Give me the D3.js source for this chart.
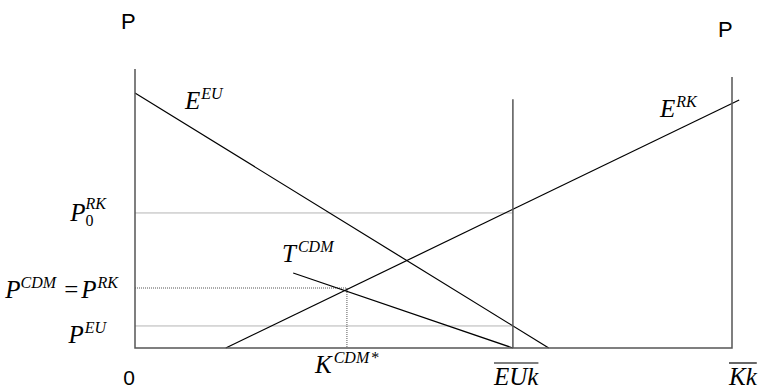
<!DOCTYPE html>
<html>
<head>
<meta charset="utf-8">
<script src="https://cdn.jsdelivr.net/npm/d3@7/dist/d3.min.js"></script>
<style>
body { margin: 0; background: #fff; }
</style>
</head>
<body>
<script>
var w = 764;
var h = 390;

// quantity positions (0 .. Kk = 100)
var kEU = 63.3;
var kK = 100;
var kCDM = 35.5;

// price levels
var pRK0 = 48.4;
var pCDM = 21.5;
var pEU = 7.9;

// axis / capacity line tops
var leftTop = 100;
var rightTop = 97.1;
var euTop = 89.2;

// curves as [quantity, price] end points
var curveEU = [[0, 91.4], [69.3, 0]];
var curveRK = [[15.2, 0], [101.2, 88.9]];
var curveT = [[26.5, 26.9], [63.3, 0]];

var x = d3.scaleLinear().domain([0, 100]).range([135, 732]);
var y = d3.scaleLinear().domain([0, 100]).range([348, 69]);

var svg = d3.select("body")
    .append("svg")
    .attr("width", w)
    .attr("height", h);

var line = d3.line()
    .x(function (d) { return x(d[0]); })
    .y(function (d) { return y(d[1]); });

var addSeg = function (pts, stroke, width, dash) {
    var p = svg.append("path")
        .attr("d", line(pts))
        .attr("fill", "none")
        .attr("stroke", stroke)
        .attr("stroke-width", width);
    if (dash) p.attr("stroke-dasharray", dash);
    return p;
}

// guide lines
addSeg([[0, pRK0], [kEU, pRK0]], "#b4b4b4", 1);
addSeg([[0, pEU], [kEU, pEU]], "#b4b4b4", 1);
addSeg([[0, pCDM], [kCDM, pCDM]], "#555", 1, "1,1");
addSeg([[kCDM, pCDM], [kCDM, 0]], "#555", 1, "1,1");

// curves
addSeg(curveEU, "#000", 1.2);
addSeg(curveRK, "#000", 1.2);
addSeg(curveT, "#000", 1.2);

// axes and capacity lines
addSeg([[0, leftTop], [0, 0], [kK, 0], [kK, rightTop]], "#555", 1.5);
addSeg([[kEU, euTop], [kEU, 0]], "#555", 1.5);

// math labels built from pieces
var serif = "'Liberation Serif', 'Times New Roman', serif";
var sans = "'Liberation Sans', Arial, sans-serif";
var big = 25;
var small = 16;

var mathLabel = function (px, py, pieces, anchorEnd) {
    var g = svg.append("g");
    var cx = 0;
    var lastW = 0;
    pieces.forEach(function (p) {
        var size = p.size || big;
        var startX = p.stack ? cx - lastW : cx;
        var t = g.append("text")
            .attr("x", startX + (p.dx || 0))
            .attr("y", p.dy || 0)
            .attr("font-family", serif)
            .attr("font-size", size)
            .attr("font-style", p.up ? "normal" : "italic")
            .attr("fill", "#000")
            .text(p.t);
        var tw = t.node().getComputedTextLength();
        var end = startX + (p.dx || 0) + tw;
        if (p.over) {
            g.append("line")
                .attr("x1", startX).attr("x2", end)
                .attr("y1", -22).attr("y2", -22)
                .attr("stroke", "#000").attr("stroke-width", 1.2);
        }
        lastW = tw;
        cx = Math.max(cx, end);
    });
    var shift = anchorEnd ? px - cx : px;
    g.attr("transform", "translate(" + shift + "," + py + ")");
}

mathLabel(185, 109, [{ t: "E" }, { t: "EU", size: small, dy: -10, dx: 1 }]);
mathLabel(660, 117, [{ t: "E" }, { t: "RK", size: small, dy: -10, dx: 1 }]);
mathLabel(282, 262, [{ t: "T" }, { t: "CDM", size: small, dy: -10, dx: 2 }]);
mathLabel(315, 373, [{ t: "K" }, { t: "CDM", size: small, dy: -10, dx: 2 }, { t: "*", size: small, dy: -10, dx: 2, up: true }]);

mathLabel(106, 221, [{ t: "P" }, { t: "0", size: small, dy: 5, up: true }, { t: "RK", size: small, dy: -12, stack: true }], true);
mathLabel(118, 298, [{ t: "P" }, { t: "CDM", size: small, dy: -10 }, { t: "=", up: true, dx: 8 }, { t: "P", dx: 3 }, { t: "RK", size: small, dy: -10, dx: 1 }], true);
mathLabel(106, 343, [{ t: "P" }, { t: "EU", size: small, dy: -10, dx: 1 }], true);

mathLabel(494, 385, [{ t: "EUk", over: true }]);
mathLabel(729, 385, [{ t: "Kk", over: true }]);

// sans labels
svg.append("text")
    .attr("x", 121).attr("y", 29)
    .attr("font-family", sans).attr("font-size", 22)
    .text("P");
svg.append("text")
    .attr("x", 718).attr("y", 37)
    .attr("font-family", sans).attr("font-size", 22)
    .text("P");
svg.append("text")
    .attr("x", 129).attr("y", 385)
    .attr("text-anchor", "middle")
    .attr("font-family", sans).attr("font-size", 21)
    .text("0");
</script>
</body>
</html>
